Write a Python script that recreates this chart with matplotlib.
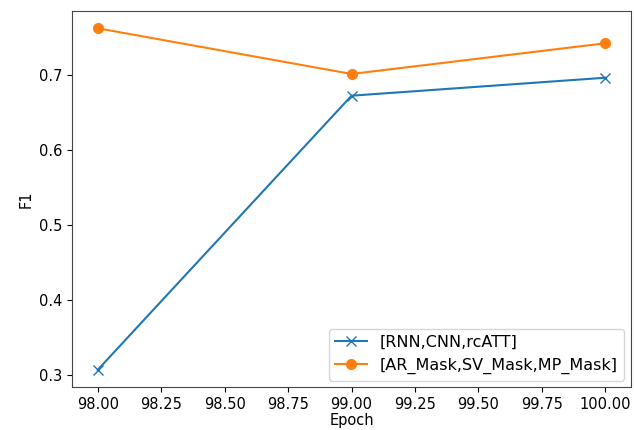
import numpy as np
import matplotlib
matplotlib.use('Agg')
import matplotlib.pyplot as plt

epochs = [98, 99, 100]
f1_rnn_cnn = [0.307, 0.673, 0.697]
f1_mask = [0.763, 0.702, 0.743]
labels = ['[RNN,CNN,rcATT]', '[AR_Mask,SV_Mask,MP_Mask]']

plt.rcParams['font.size'] = 10.5
fig = plt.figure(figsize=(6.34, 4.30), dpi=100)
ax = fig.add_axes([0.114, 0.1, 0.881, 0.874])
ax.plot(epochs, f1_rnn_cnn, marker='x', color='#1f77b4', label=labels[0], markersize=7)
ax.plot(epochs, f1_mask, marker='o', color='#ff7f0e', label=labels[1], markersize=7)
ax.set_xticks(np.arange(98, 100.01, 0.25))
ax.set_xticklabels(['%.2f' % t for t in np.arange(98, 100.01, 0.25)])
ax.set_yticks([0.3, 0.4, 0.5, 0.6, 0.7])
ax.set_xlabel('Epoch', labelpad=1)
ax.set_ylabel('F1')
ax.legend(loc='lower right', fontsize=11.5, borderaxespad=0.4)
for s in ax.spines.values():
    s.set_color('#444444')
fig.savefig('out.png', dpi=100)
